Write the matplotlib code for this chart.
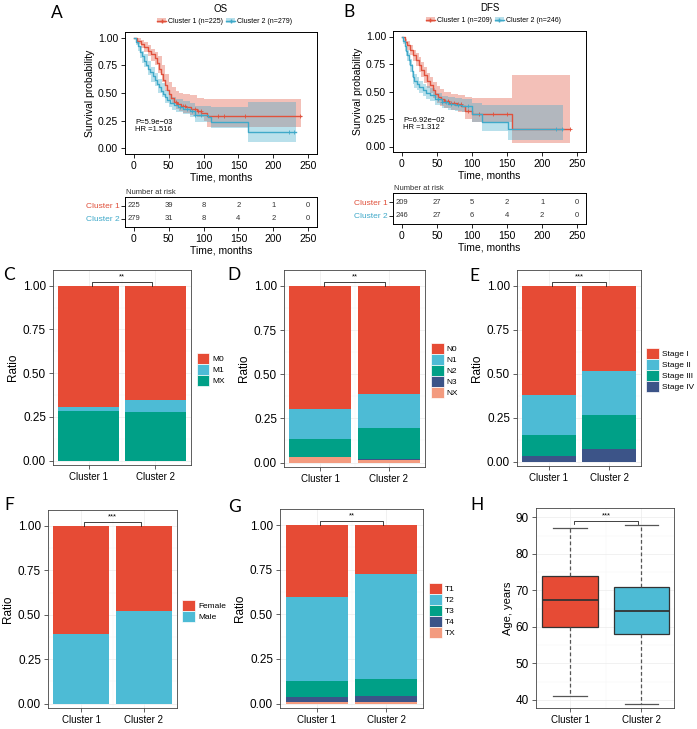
import numpy as np
import matplotlib
matplotlib.use("Agg")
import matplotlib.pyplot as plt
from matplotlib.patches import Patch
from matplotlib.lines import Line2D

plt.rcParams['font.family'] = ['Liberation Sans', 'DejaVu Sans']

RED = "#E64B35"
BLUE = "#4DBBD5"
GREEN = "#00A087"
NAVY = "#3C5488"
SALMON = "#F39B7F"
KM_RED = "#E0513C"
KM_BLUE = "#3FA9C9"

W, H = 697, 729

# ---------------- A: OS ----------------
os_c1_t = [0, 5, 10, 15, 20, 25, 30, 33, 36, 39, 42, 45, 48, 51, 54, 57, 62, 68, 75, 82, 90, 97, 105, 239]
os_c1_s = [1.0, 0.97, 0.945, 0.915, 0.88, 0.85, 0.815, 0.77, 0.72, 0.67, 0.62, 0.575, 0.53, 0.49, 0.455,
           0.42, 0.405, 0.385, 0.37, 0.36, 0.34, 0.32, 0.29, 0.29]
os_c1_band_t = [0, 5, 10, 15, 20, 25, 30, 35, 40, 45, 50, 55, 60, 65, 70, 80, 90, 100, 105, 239]
os_c1_lo = [1.0, 0.94, 0.91, 0.87, 0.83, 0.79, 0.75, 0.68, 0.60, 0.52, 0.44, 0.40, 0.36, 0.34, 0.32,
            0.30, 0.28, 0.25, 0.19, 0.19]
os_c1_hi = [1.0, 0.995, 0.98, 0.96, 0.93, 0.90, 0.87, 0.83, 0.75, 0.67, 0.60, 0.55, 0.52, 0.50, 0.49,
            0.48, 0.455, 0.45, 0.45, 0.45]
os_c1_cens = [60, 64, 70, 74, 88, 92, 96, 120, 130, 160, 238]

os_c2_t = [0, 3, 6, 9, 12, 15, 18, 21, 24, 27, 30, 33, 36, 39, 42, 45, 48, 52, 57, 64, 71, 80, 88, 107, 110, 163, 232]
os_c2_s = [1.0, 0.96, 0.92, 0.87, 0.83, 0.79, 0.755, 0.72, 0.685, 0.65, 0.615, 0.58, 0.55, 0.52, 0.49, 0.46,
           0.435, 0.41, 0.39, 0.375, 0.36, 0.335, 0.30, 0.285, 0.24, 0.15, 0.15]
os_c2_band_t = [0, 3, 6, 9, 12, 15, 20, 25, 30, 35, 40, 45, 50, 55, 60, 70, 80, 88, 110, 163, 232]
os_c2_lo = [1.0, 0.93, 0.88, 0.82, 0.77, 0.73, 0.66, 0.60, 0.56, 0.50, 0.46, 0.41, 0.37, 0.35, 0.33,
            0.31, 0.28, 0.24, 0.18, 0.06, 0.06]
os_c2_hi = [1.0, 0.99, 0.96, 0.92, 0.88, 0.85, 0.79, 0.73, 0.68, 0.63, 0.59, 0.53, 0.49, 0.46, 0.45,
            0.43, 0.41, 0.38, 0.37, 0.42, 0.42]
os_c2_cens = [66, 76, 84, 88, 97, 222, 230]

os_risk_c1 = [225, 39, 8, 2, 1, 0]
os_risk_c2 = [279, 31, 8, 4, 2, 0]

# ---------------- B: DFS ----------------
dfs_c1_t = [0, 4, 8, 12, 16, 20, 24, 28, 32, 36, 40, 44, 48, 52, 56, 60, 68, 78, 85, 90, 100, 157, 240]
dfs_c1_s = [1.0, 0.95, 0.92, 0.875, 0.83, 0.79, 0.745, 0.70, 0.65, 0.60, 0.56, 0.515, 0.48, 0.45, 0.43,
            0.415, 0.40, 0.385, 0.37, 0.32, 0.30, 0.155, 0.155]
dfs_c1_band_t = [0, 4, 8, 12, 16, 20, 24, 28, 32, 36, 40, 45, 50, 55, 60, 70, 80, 90, 100, 157, 240]
dfs_c1_lo = [1.0, 0.92, 0.88, 0.83, 0.78, 0.73, 0.68, 0.63, 0.58, 0.53, 0.49, 0.44, 0.40, 0.37, 0.35,
             0.33, 0.31, 0.25, 0.22, 0.03, 0.03]
dfs_c1_hi = [1.0, 0.98, 0.96, 0.92, 0.88, 0.85, 0.81, 0.77, 0.72, 0.67, 0.63, 0.59, 0.55, 0.52, 0.50,
             0.48, 0.47, 0.45, 0.44, 0.65, 0.65]
dfs_c1_cens = [62, 66, 70, 75, 80, 84, 95, 110, 130, 150, 240]

dfs_c2_t = [0, 2, 4, 6, 8, 10, 12, 14, 16, 18, 21, 25, 30, 35, 40, 47, 57, 66, 76, 86, 100, 115, 152, 230]
dfs_c2_s = [1.0, 0.96, 0.91, 0.87, 0.83, 0.79, 0.74, 0.69, 0.63, 0.595, 0.57, 0.545, 0.515, 0.49, 0.47,
            0.435, 0.405, 0.39, 0.38, 0.37, 0.295, 0.22, 0.155, 0.155]
dfs_c2_band_t = [0, 2, 4, 6, 8, 10, 12, 14, 16, 18, 21, 25, 30, 35, 40, 47, 57, 66, 76, 86, 100, 115, 152, 230]
dfs_c2_lo = [1.0, 0.93, 0.87, 0.82, 0.78, 0.74, 0.68, 0.63, 0.57, 0.53, 0.51, 0.49, 0.46, 0.43, 0.41,
             0.38, 0.35, 0.33, 0.32, 0.31, 0.22, 0.14, 0.06, 0.06]
dfs_c2_hi = [1.0, 0.99, 0.95, 0.92, 0.88, 0.85, 0.80, 0.75, 0.69, 0.66, 0.63, 0.60, 0.57, 0.55, 0.53,
             0.49, 0.46, 0.45, 0.44, 0.43, 0.40, 0.38, 0.38, 0.38]
dfs_c2_cens = [52, 58, 63, 70, 80, 95, 220, 228]

dfs_risk_c1 = [209, 27, 5, 2, 1, 0]
dfs_risk_c2 = [246, 27, 6, 4, 2, 0]

risk_times = [0, 50, 100, 150, 200, 250]

# ---------------- bar panels (levels listed top to bottom) ----------------
clusters = ["Cluster 1", "Cluster 2"]

m_levels = ["M0", "M1", "MX"]
m_values = [[0.695, 0.655], [0.019, 0.069], [0.286, 0.276]]

n_levels = ["N0", "N1", "N2", "N3", "NX"]
n_values = [[0.695, 0.61], [0.172, 0.195], [0.099, 0.174], [0.0, 0.006], [0.034, 0.015]]

stage_levels = ["Stage I", "Stage II", "Stage III", "Stage IV"]
stage_values = [[0.623, 0.482], [0.223, 0.255], [0.121, 0.194], [0.033, 0.069]]

sex_levels = ["Female", "Male"]
sex_values = [[0.61, 0.48], [0.39, 0.52]]

t_levels = ["T1", "T2", "T3", "T4", "TX"]
t_values = [[0.403, 0.272], [0.469, 0.591], [0.09, 0.092], [0.03, 0.034], [0.008, 0.011]]

# ---------------- H: age boxplot ----------------
age_lo = [41, 39]
age_q1 = [60, 58]
age_med = [67.5, 64.5]
age_q3 = [74, 71]
age_hi = [87, 88]


def pax(fig, x0, y0, x1, y1):
    # axes from pixel box
    return fig.add_axes([x0 / W, 1 - y1 / H, (x1 - x0) / W, (y1 - y0) / H])


def surv_at(t, s, pts):
    idx = np.searchsorted(np.array(t), np.array(pts), side='right') - 1
    return np.array(s)[np.clip(idx, 0, len(s) - 1)]


def km_panel(fig, box, rbox, title, curves, ns, ptxt, hrtxt, risks):
    ax = pax(fig, *box)
    for (t, s, bt, lo, hi, cens), col in zip(curves, [KM_RED, KM_BLUE]):
        ax.fill_between(bt, lo, hi, step='post', color=col, alpha=0.36, lw=0)
    for (t, s, bt, lo, hi, cens), col in zip(curves, [KM_RED, KM_BLUE]):
        ax.step(t, s, where='post', color=col, lw=1.0)
        ax.plot(cens, surv_at(t, s, cens), '+', color=col, ms=3, mew=0.6)
    ax.set_xlim(-12.5, 262.5)
    ax.set_ylim(-0.05, 1.05)
    ax.set_xticks(risk_times)
    ax.set_yticks([0, 0.25, 0.5, 0.75, 1.0])
    ax.set_yticklabels(["0.00", "0.25", "0.50", "0.75", "1.00"])
    ax.tick_params(labelsize=7.5, length=3, width=0.6, pad=2)
    for sp in ax.spines.values():
        sp.set_linewidth(0.7)
    ax.set_xlabel("Time, months", fontsize=7.5, labelpad=1)
    ax.set_ylabel("Survival probability", fontsize=7.5, labelpad=2)
    ax.text(2, 0.235, ptxt, fontsize=5.5, va='center')
    ax.text(2, 0.175, hrtxt, fontsize=5.5, va='center')
    ax.text(0.5, 1.19, title, transform=ax.transAxes, ha='center', va='center', fontsize=7)
    handles = [(Patch(color=c, alpha=0.36, lw=0), Line2D([], [], color=c, lw=1, marker='+', ms=3))
               for c in [KM_RED, KM_BLUE]]
    labs = ["Cluster 1 (n=%d)" % ns[0], "Cluster 2 (n=%d)" % ns[1]]
    ax.legend(handles, labs, loc='center', bbox_to_anchor=(0.52, 1.085), ncol=2, frameon=False,
              fontsize=5, handlelength=1.3, handletextpad=0.3, columnspacing=0.4, borderpad=0)

    # risk table
    rx = pax(fig, *rbox)
    rx.set_xlim(-12.5, 262.5)
    rx.set_ylim(0.38, 2.69)
    for tt, a, b in zip(risk_times, risks[0], risks[1]):
        rx.text(tt, 2, str(a), ha='center', va='center', fontsize=5.5, color='#333333')
        rx.text(tt, 1, str(b), ha='center', va='center', fontsize=5.5, color='#333333')
    rx.set_xticks(risk_times)
    rx.set_yticks([2, 1])
    rx.set_yticklabels(clusters, fontsize=6)
    for lab, c in zip(rx.get_yticklabels(), [KM_RED, KM_BLUE]):
        lab.set_color(c)
    rx.tick_params(axis='x', labelsize=7.5, length=3, width=0.6, pad=2)
    rx.tick_params(axis='y', length=3, width=0.6, pad=1)
    for sp in rx.spines.values():
        sp.set_linewidth(0.7)
    rx.set_xlabel("Time, months", fontsize=7.5, labelpad=1)
    rx.text(0.005, 1.02, "Number at risk", transform=rx.transAxes, fontsize=5.5, va='bottom',
            color='#333333')
    return ax


def gg_style(ax):
    ax.set_axisbelow(True)
    ax.grid(True, which='major', color='#EBEBEB', lw=0.5)
    ax.grid(True, which='minor', color='#F4F4F4', lw=0.35)
    for sp in ax.spines.values():
        sp.set_color('#444444')
        sp.set_linewidth(0.6)
    ax.tick_params(which='major', length=3, width=0.6, color='#444444', pad=2)
    ax.tick_params(which='minor', length=0)
    ax.tick_params(axis='y', labelsize=8.5)
    ax.tick_params(axis='x', labelsize=7)


def sig(ax, x1, x2, y, h, txt):
    ax.plot([x1, x1, x2, x2], [y - h, y, y, y - h], color='#222222', lw=0.6)
    ax.text((x1 + x2) / 2, y + h * 0.6, txt, ha='center', va='bottom', fontsize=5.5)


def bar_panel(fig, box, levels, values, colors, stars):
    ax = pax(fig, *box)
    x = np.array([1, 2])
    bottom = np.zeros(2)
    for lev, val, col in reversed(list(zip(levels, values, colors))):
        ax.bar(x, val, 0.9, bottom=bottom, color=col, edgecolor='none')
        bottom += np.array(val)
    ax.set_xlim(0.47, 2.53)
    ax.set_ylim(-0.025, 1.09)
    ax.set_xticks([1, 2])
    ax.set_xticks([1.5], minor=True)
    ax.set_xticklabels(clusters)
    ax.set_yticks([0, 0.25, 0.5, 0.75, 1.0])
    ax.set_yticks([0.125, 0.375, 0.625, 0.875], minor=True)
    ax.set_yticklabels(["0.00", "0.25", "0.50", "0.75", "1.00"])
    gg_style(ax)
    ax.set_ylabel("Ratio", fontsize=8.5, labelpad=3)
    sig(ax, 1.05, 1.95, 1.02, 0.02, stars)
    handles = [Patch(facecolor=c, edgecolor='white', lw=0.5) for c in colors]
    ax.legend(handles, levels, loc='center left', bbox_to_anchor=(1.04, 0.49), frameon=False,
              fontsize=6, handlelength=1.55, handleheight=1.55, labelspacing=0.06,
              handletextpad=0.35, borderpad=0, borderaxespad=0)
    return ax


fig = plt.figure(figsize=(W / 100, H / 100), dpi=100)

km_panel(fig, (125, 32, 317, 154), (125, 197, 317, 227), "OS",
         [(os_c1_t, os_c1_s, os_c1_band_t, os_c1_lo, os_c1_hi, os_c1_cens),
          (os_c2_t, os_c2_s, os_c2_band_t, os_c2_lo, os_c2_hi, os_c2_cens)],
         (225, 279), "P=5.9e\u221203", "HR =1.516", (os_risk_c1, os_risk_c2))
km_panel(fig, (393, 31, 586, 152), (393, 193, 586, 224), "DFS",
         [(dfs_c1_t, dfs_c1_s, dfs_c1_band_t, dfs_c1_lo, dfs_c1_hi, dfs_c1_cens),
          (dfs_c2_t, dfs_c2_s, dfs_c2_band_t, dfs_c2_lo, dfs_c2_hi, dfs_c2_cens)],
         (209, 246), "P=6.92e\u221202", "HR =1.312", (dfs_risk_c1, dfs_risk_c2))

bar_panel(fig, (53, 270, 191, 465), m_levels, m_values, [RED, BLUE, GREEN], "**")
bar_panel(fig, (284, 270, 425, 467), n_levels, n_values, [RED, BLUE, GREEN, NAVY, SALMON], "**")
bar_panel(fig, (517, 270, 641, 466), stage_levels, stage_values, [RED, BLUE, GREEN, NAVY], "***")
bar_panel(fig, (48, 510, 177, 708), sex_levels, sex_values, [RED, BLUE], "***")
bar_panel(fig, (280, 509, 423, 708), t_levels, t_values, [RED, BLUE, GREEN, NAVY, SALMON], "**")

# H boxplot
ax = pax(fig, 536, 508, 674, 708)
stats = [dict(whislo=a, q1=b, med=c, q3=d, whishi=e, fliers=[])
         for a, b, c, d, e in zip(age_lo, age_q1, age_med, age_q3, age_hi)]
bp = ax.bxp(stats, positions=[1, 2], widths=0.78, patch_artist=True, capwidths=0.47,
            boxprops=dict(edgecolor='#333333', lw=0.9),
            medianprops=dict(color='#333333', lw=1.3),
            whiskerprops=dict(color='#555555', lw=0.9, ls=(0, (3, 2))),
            capprops=dict(color='#555555', lw=0.9))
for patch, col in zip(bp['boxes'], [RED, BLUE]):
    patch.set_facecolor(col)
ax.set_xlim(0.52, 2.46)
ax.set_ylim(37.8, 92.6)
ax.set_xticks([1, 2])
ax.set_xticks([1.5], minor=True)
ax.set_xticklabels(clusters)
ax.set_yticks([40, 50, 60, 70, 80, 90])
ax.set_yticks([45, 55, 65, 75, 85], minor=True)
gg_style(ax)
ax.set_ylabel("Age, years", fontsize=8, labelpad=2)
sig(ax, 1.06, 1.95, 89.1, 0.8, "***")

# panel letters
for lab, x, y in [("A", 57, 13), ("B", 349, 12), ("C", 9, 275), ("D", 234, 275), ("E", 474, 276),
                  ("F", 9, 505), ("G", 234, 507), ("H", 477, 505)]:
    fig.text(x / W, 1 - y / H, lab, fontsize=12.5, ha='center', va='center', family='Lato')

fig.savefig("out.png", dpi=100)
